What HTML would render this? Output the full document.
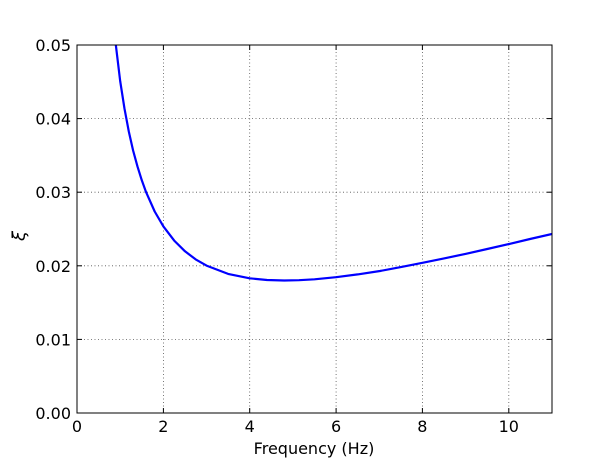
<!DOCTYPE html>
<html><head><meta charset="utf-8"><style>
body{margin:0;background:#fff}
svg text{font-family:"DejaVu Sans","Liberation Sans",sans-serif;font-size:16px;fill:#000}
</style></head><body>
<svg width="615" height="461" xmlns="http://www.w3.org/2000/svg">
<defs><clipPath id="c"><rect x="77" y="45" width="475" height="368"/></clipPath></defs>
<rect width="615" height="461" fill="#fff"/>
<g stroke="#555" stroke-width="0.8" stroke-dasharray="1,2.5">
<line x1="163.4" y1="45" x2="163.4" y2="413"/>
<line x1="249.7" y1="45" x2="249.7" y2="413"/>
<line x1="336.1" y1="45" x2="336.1" y2="413"/>
<line x1="422.4" y1="45" x2="422.4" y2="413"/>
<line x1="508.8" y1="45" x2="508.8" y2="413"/>
<line x1="77" y1="339.4" x2="552" y2="339.4"/>
<line x1="77" y1="265.8" x2="552" y2="265.8"/>
<line x1="77" y1="192.2" x2="552" y2="192.2"/>
<line x1="77" y1="118.6" x2="552" y2="118.6"/>
</g>
<polyline clip-path="url(#c)" fill="none" stroke="#0000ff" stroke-width="2.2" stroke-linejoin="round" points="113.7,27.3 120.2,81.2 124.5,108.7 128.8,131.5 133.1,150.5 137.5,166.6 141.8,180.3 146.1,192.2 154.7,211.5 163.4,226.4 174.2,240.6 185,251.3 195.7,259.4 206.5,265.6 228.1,273.9 249.7,278.3 267,280 284.3,280.5 299,280.2 314.5,279.3 336,277.2 357.7,274.4 380,271 400.9,267.1 422.5,262.8 444,258.4 466,253.8 487.2,249 510,243.8 530,239 552,234"/>
<rect x="77" y="45" width="475" height="368" fill="none" stroke="#000" stroke-width="1"/>
<g stroke="#000" stroke-width="1">
<line x1="163.4" y1="413" x2="163.4" y2="408"/><line x1="163.4" y1="45" x2="163.4" y2="50"/>
<line x1="249.7" y1="413" x2="249.7" y2="408"/><line x1="249.7" y1="45" x2="249.7" y2="50"/>
<line x1="336.1" y1="413" x2="336.1" y2="408"/><line x1="336.1" y1="45" x2="336.1" y2="50"/>
<line x1="422.4" y1="413" x2="422.4" y2="408"/><line x1="422.4" y1="45" x2="422.4" y2="50"/>
<line x1="508.8" y1="413" x2="508.8" y2="408"/><line x1="508.8" y1="45" x2="508.8" y2="50"/>
<line x1="77" y1="339.4" x2="82" y2="339.4"/><line x1="552" y1="339.4" x2="547" y2="339.4"/>
<line x1="77" y1="265.8" x2="82" y2="265.8"/><line x1="552" y1="265.8" x2="547" y2="265.8"/>
<line x1="77" y1="192.2" x2="82" y2="192.2"/><line x1="552" y1="192.2" x2="547" y2="192.2"/>
<line x1="77" y1="118.6" x2="82" y2="118.6"/><line x1="552" y1="118.6" x2="547" y2="118.6"/>
</g>
<g text-anchor="middle">
<text x="77" y="432">0</text><text x="163.4" y="432">2</text><text x="249.7" y="432">4</text>
<text x="336.1" y="432">6</text><text x="422.4" y="432">8</text><text x="508.8" y="432">10</text>
<text x="314" y="454">Frequency (Hz)</text>
</g>
<g text-anchor="end">
<text x="71" y="419">0.00</text><text x="71" y="345.4">0.01</text><text x="71" y="271.8">0.02</text>
<text x="71" y="198.2">0.03</text><text x="71" y="124.6">0.04</text><text x="71" y="51">0.05</text>
</g>
<text x="0" y="0" transform="translate(25,236) rotate(-90)" text-anchor="middle" style="font-style:italic;font-size:18px">ξ</text>
</svg>
</body></html>
